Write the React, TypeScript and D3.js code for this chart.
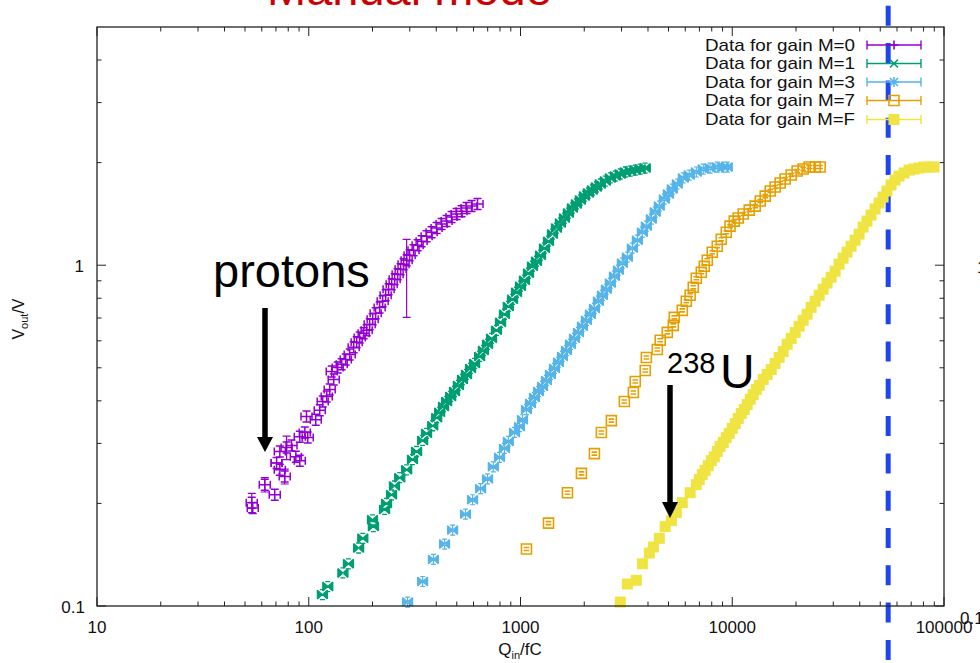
import React from 'react'
import * as d3 from 'd3'

// gain M=0 (protons region)
const m0Q = [53.8, 54.4, 62.0, 69.1, 70.5, 73.0, 73.0, 77.0, 78.6, 82.9, 86.9, 90.7, 90.7, 95.8, 98.9, 97.6, 107.9, 112.7, 116.4, 121.6, 125.6, 128.4, 131.2, 137.0, 143.1, 149.5, 156.1, 163.0, 168.4, 174.0, 181.7, 187.8, 194.0, 200.4, 207.0, 216.2, 223.4, 230.8, 238.3, 246.4, 254.5, 262.9, 271.6, 280.4, 289.9, 299.5, 312.5, 326.7, 341.2, 360.2, 380.4, 401.6, 424.0, 447.6, 472.6, 499.0, 526.8, 556.2, 587.2, 626.8]
const m0V = [0.201, 0.194, 0.227, 0.212, 0.263, 0.284, 0.251, 0.240, 0.292, 0.296, 0.274, 0.267, 0.314, 0.323, 0.312, 0.360, 0.352, 0.375, 0.398, 0.412, 0.432, 0.488, 0.462, 0.501, 0.512, 0.529, 0.547, 0.574, 0.594, 0.614, 0.631, 0.644, 0.671, 0.694, 0.723, 0.752, 0.784, 0.816, 0.850, 0.880, 0.910, 0.941, 0.973, 1.007, 1.034, 1.070, 1.107, 1.145, 1.176, 1.217, 1.250, 1.285, 1.320, 1.347, 1.384, 1.413, 1.441, 1.471, 1.491, 1.512]
// the M=0 points whose error bars stick out of the marker
const m0BarQ = [53.8, 62.0, 70.5, 77.0, 78.6, 289.9]
const m0BarV = [0.201, 0.227, 0.263, 0.240, 0.292, 0.947]
const m0BarDQ = [0, 0, 4, 0, 0, 0]
const m0BarDV = [0.013, 0.011, 0, 0.012, 0.023, 0.244]

// gain M=1
const m1Q = [116, 123, 145, 154, 172, 180, 202, 200, 228, 233, 246, 254, 269, 290, 309, 323, 345, 360, 385, 402, 415, 433, 448, 468, 488, 509, 532, 556, 581, 607, 641, 668, 699, 730, 770, 805, 840, 876, 917, 958, 1000, 1044, 1091, 1139, 1190, 1243, 1298, 1356, 1416, 1479, 1544, 1613, 1684, 1759, 1837, 1918, 2004, 2093, 2185, 2283, 2383, 2516, 2656, 2804, 2960, 3125, 3300, 3483, 3677, 3882]
const m1V = [0.108, 0.114, 0.125, 0.133, 0.148, 0.158, 0.171, 0.179, 0.192, 0.200, 0.212, 0.225, 0.238, 0.251, 0.269, 0.284, 0.306, 0.321, 0.338, 0.357, 0.370, 0.385, 0.398, 0.412, 0.426, 0.444, 0.462, 0.478, 0.498, 0.515, 0.540, 0.562, 0.586, 0.610, 0.644, 0.680, 0.718, 0.757, 0.794, 0.833, 0.868, 0.904, 0.947, 0.993, 1.027, 1.070, 1.122, 1.176, 1.234, 1.285, 1.329, 1.375, 1.422, 1.471, 1.512, 1.553, 1.595, 1.628, 1.662, 1.696, 1.731, 1.766, 1.803, 1.827, 1.852, 1.877, 1.889, 1.902, 1.915, 1.928]

// gain M=3
const m3Q = [293, 345, 388, 438, 478, 550, 594, 648, 699, 744, 796, 840, 876, 937, 989, 1022, 1067, 1115, 1164, 1216, 1270, 1326, 1385, 1447, 1511, 1578, 1648, 1721, 1798, 1878, 1961, 2048, 2138, 2234, 2333, 2436, 2545, 2656, 2776, 2899, 3028, 3196, 3375, 3564, 3763, 3929, 4148, 4327, 4524, 4778, 4990, 5212, 5503, 5872, 6268, 6765, 7297, 7857, 8496, 9070, 9470]
const m3V = [0.1027, 0.118, 0.137, 0.152, 0.167, 0.186, 0.205, 0.221, 0.236, 0.256, 0.273, 0.290, 0.304, 0.323, 0.336, 0.352, 0.377, 0.393, 0.409, 0.426, 0.441, 0.459, 0.478, 0.498, 0.519, 0.540, 0.562, 0.586, 0.610, 0.635, 0.662, 0.689, 0.718, 0.747, 0.784, 0.816, 0.850, 0.886, 0.928, 0.967, 1.014, 1.056, 1.122, 1.184, 1.250, 1.302, 1.366, 1.432, 1.491, 1.563, 1.618, 1.673, 1.731, 1.803, 1.839, 1.877, 1.915, 1.928, 1.941, 1.941, 1.941]

// gain M=7
const m7Q = [1067, 1356, 1666, 1940, 2234, 2410, 2686, 3094, 3412, 3483, 3882, 3929, 4428, 4568, 4935, 5268, 5324, 5809, 6067, 6325, 6546, 6765, 7142, 7378, 7622, 8047, 8496, 8874, 9370, 9760, 10220, 10670, 11270, 12030, 12840, 13560, 14310, 15110, 15950, 16840, 17780, 18980, 20250, 21620, 23080, 24640, 26010]
const m7V = [0.147, 0.175, 0.215, 0.245, 0.280, 0.323, 0.350, 0.398, 0.423, 0.456, 0.491, 0.536, 0.566, 0.602, 0.635, 0.666, 0.703, 0.737, 0.784, 0.816, 0.862, 0.916, 0.954, 0.993, 1.034, 1.092, 1.137, 1.192, 1.250, 1.302, 1.347, 1.375, 1.413, 1.451, 1.491, 1.543, 1.595, 1.651, 1.696, 1.743, 1.790, 1.839, 1.889, 1.915, 1.941, 1.941, 1.941]

// gain M=F (238U region)
const mFQ = [2960, 3196, 3525, 3763, 4059, 4240, 4524, 4823, 5156, 5443, 5809, 6325, 6765, 6985, 7220, 7442, 7704, 7960, 8224, 8496, 8757, 9070, 9370, 9680, 10000, 10330, 10670, 11030, 11390, 11770, 12160, 12560, 12980, 13410, 14000, 14620, 15280, 15950, 16660, 17400, 18170, 18980, 19830, 20700, 21620, 22570, 23580, 24640, 25730, 26860, 28040, 29310, 30610, 31960, 33390, 34830, 36410, 38040, 39720, 41480, 43270, 45240, 47260, 49350, 51560, 53750, 56230, 58720, 61350, 64770, 68390, 72200, 76220, 80470, 84960, 89720]
const mFV = [0.1027, 0.116, 0.119, 0.133, 0.143, 0.149, 0.158, 0.171, 0.178, 0.188, 0.201, 0.215, 0.227, 0.235, 0.243, 0.250, 0.258, 0.267, 0.274, 0.284, 0.294, 0.302, 0.312, 0.321, 0.332, 0.343, 0.355, 0.367, 0.377, 0.390, 0.404, 0.417, 0.432, 0.444, 0.462, 0.478, 0.494, 0.515, 0.536, 0.558, 0.586, 0.610, 0.635, 0.662, 0.689, 0.718, 0.752, 0.784, 0.816, 0.850, 0.886, 0.922, 0.960, 1.007, 1.049, 1.092, 1.137, 1.184, 1.234, 1.294, 1.347, 1.403, 1.461, 1.522, 1.585, 1.651, 1.719, 1.778, 1.827, 1.865, 1.902, 1.915, 1.928, 1.941, 1.941, 1.941]

const seriesNames = ['Data for gain M=0', 'Data for gain M=1', 'Data for gain M=3', 'Data for gain M=7', 'Data for gain M=F']
const seriesColors = ['#9400d3', '#009e73', '#56b4e9', '#e69f00', '#f0e442']
const xTickLabels = [10, 100, 1000, 10000, 100000]
const yTickLabels = [0.1, 1]
const cutQ = 54500 // blue dashed marker

const font = 'Liberation Sans, Arial, Helvetica, sans-serif'

// point glyphs: marker + the error-bar caps, as gnuplot draws them
const bowtie = 'M-5,-4.5L0,0L-5,4.5ZM5,-4.5L0,0L5,4.5Z'
const glyphs = [
  { stroke: 'M-5.5,0H5.5M0,-5.5V5.5M-5.5,-4V4M5.5,-4V4M-4,-5.5H4M-4,5.5H4', fill: '' },
  { stroke: 'M-5,-4.5L5,4.5M-5,4.5L5,-4.5M-5,-4.5V4.5M5,-4.5V4.5M-2.5,-5H2.5M-2.5,5H2.5', fill: bowtie },
  { stroke: 'M-5,-4.5L5,4.5M-5,4.5L5,-4.5M-5,-4.5V4.5M5,-4.5V4.5M0,-5V5M-2.5,-5H2.5M-2.5,5H2.5', fill: bowtie },
  { stroke: 'M-5,-5H5V5H-5ZM-2.8,-1.5H2.8M-2.8,1.5H2.8', fill: '' },
]
const glyphStroke = [1.5, 1.3, 1.2, 1.6]
const legendGlyphs = [
  'M-4.5,0H4.5M0,-4.5V4.5',
  'M-4,-4L4,4M-4,4L4,-4',
  'M-4,-4L4,4M-4,4L4,-4M-5,0H5M0,-5V5',
  'M-5,-5H5V5H-5Z',
]

export default function App() {
  const x = d3.scaleLog().domain([10, 100000]).range([97, 944])
  const y = d3.scaleLog().domain([0.1, 5]).range([606, 27])
  const left = 97, right = 944, top = 27, bottom = 606

  const xMinor = x.ticks().filter(t => !xTickLabels.includes(t))
  const yMinor = y.ticks().filter(t => !yTickLabels.includes(t) && t < 5)

  const series = [
    { q: m0Q, v: m0V },
    { q: m1Q, v: m1V },
    { q: m3Q, v: m3V },
    { q: m7Q, v: m7V },
    { q: mFQ, v: mFV },
  ]

  const legendY = [45, 63.5, 82, 100.5, 119.5]

  return (
    <svg width={980} height={663} style={{ position: 'absolute', left: 0, top: 0, display: 'block', background: '#fff' }}
      fontFamily={font}>
      <rect x={0} y={0} width={980} height={663} fill="#fff" />

      {/* cut-off slide title */}
      <text x={267} y={4.5} fontSize={47} fill="#cc0000">Manual mode</text>

      {/* blue dashed vertical marker */}
      <line x1={x(cutQ)} x2={x(cutQ)} y1={0} y2={663} stroke="#1f45f0" strokeWidth={5}
        strokeDasharray="20 17.3" strokeDashoffset={31.5} />

      {/* ticks */}
      <g stroke="#222" strokeWidth={1}>
        {xTickLabels.map(t => (
          <g key={'xM' + t}>
            <line x1={x(t)} x2={x(t)} y1={bottom} y2={bottom - 9} />
            <line x1={x(t)} x2={x(t)} y1={top} y2={top + 9} />
          </g>
        ))}
        {xMinor.map(t => (
          <g key={'xm' + t}>
            <line x1={x(t)} x2={x(t)} y1={bottom} y2={bottom - 4.5} />
            <line x1={x(t)} x2={x(t)} y1={top} y2={top + 4.5} />
          </g>
        ))}
        {yTickLabels.map(t => (
          <g key={'yM' + t}>
            <line x1={left} x2={left + 9} y1={y(t)} y2={y(t)} />
            <line x1={right} x2={right - 9} y1={y(t)} y2={y(t)} />
          </g>
        ))}
        {yMinor.map(t => (
          <g key={'ym' + t}>
            <line x1={left} x2={left + 4.5} y1={y(t)} y2={y(t)} />
            <line x1={right} x2={right - 4.5} y1={y(t)} y2={y(t)} />
          </g>
        ))}
      </g>

      {/* data */}
      {series.slice(0, 4).map((s, si) => (
        <g key={'s' + si} stroke={seriesColors[si]} strokeWidth={glyphStroke[si]}>
          {s.q.map((q, i) => (
            <g key={i} transform={`translate(${x(q)},${y(s.v[i])})`}>
              {glyphs[si].fill && <path d={glyphs[si].fill} fill={seriesColors[si]} stroke="none" />}
              <path d={glyphs[si].stroke} fill="none" />
            </g>
          ))}
          {si === 0 && m0BarQ.map((q, i) => {
            const cx = x(q), cy = y(m0BarV[i])
            const els = []
            if (m0BarDV[i] > 0) {
              const y1 = y(m0BarV[i] + m0BarDV[i]), y2 = y(m0BarV[i] - m0BarDV[i])
              els.push(<path key="v" fill="none" strokeWidth={1.2} d={`M${cx},${y1}V${y2}M${cx - 4},${y1}H${cx + 4}M${cx - 4},${y2}H${cx + 4}`} />)
            }
            if (m0BarDQ[i] > 0) {
              const x1 = x(q - m0BarDQ[i]), x2 = x(q + m0BarDQ[i])
              els.push(<path key="h" fill="none" strokeWidth={1.2} d={`M${x1},${cy}H${x2}M${x1},${cy - 4}V${cy + 4}M${x2},${cy - 4}V${cy + 4}`} />)
            }
            return <g key={'b' + i}>{els}</g>
          })}
        </g>
      ))}
      <g fill={seriesColors[4]}>
        {mFQ.map((q, i) => (
          <rect key={i} x={x(q) - 5.5} y={y(mFV[i]) - 5.5} width={11} height={11} />
        ))}
      </g>

      {/* frame */}
      <rect x={left} y={top} width={right - left} height={bottom - top} fill="none" stroke="#222" strokeWidth={1.3} />

      {/* tick labels */}
      <g fontSize={17} fill="#111" textAnchor="middle">
        {xTickLabels.map(t => (
          <text key={'xl' + t} x={x(t)} y={633}>{t}</text>
        ))}
      </g>
      <g fontSize={17} fill="#111" textAnchor="end">
        <text x={85} y={613}>0.1</text>
        <text x={84} y={272}>1</text>
      </g>
      {/* bits of the neighbouring panel peeking in */}
      <text x={960} y={624} fontSize={17} fill="#111">0.1</text>
      <text x={977} y={273} fontSize={17} fill="#111">1</text>

      {/* axis titles */}
      <text transform="translate(24,319) rotate(-90)" textAnchor="middle" fontSize={16} fill="#111">
        V<tspan fontSize={11} dy={4}>out</tspan><tspan dy={-4}>/V</tspan>
      </text>
      <text x={520} y={655} textAnchor="middle" fontSize={17} fill="#111">
        Q<tspan fontSize={11} dy={4}>in</tspan><tspan dy={-4}>/fC</tspan>
      </text>

      {/* legend */}
      {seriesNames.map((name, i) => {
        const ly = legendY[i]
        const c = seriesColors[i]
        return (
          <g key={'lg' + i}>
            <text x={855} y={ly + 5.5} fontSize={17} textAnchor="end" fill="#111"
              textLength={150} lengthAdjust="spacingAndGlyphs">{name}</text>
            <path d={`M867,${ly}H921M867,${ly - 4.5}V${ly + 4.5}M921,${ly - 4.5}V${ly + 4.5}`}
              stroke={c} strokeWidth={1.4} fill="none" />
            {i < 4
              ? <path d={legendGlyphs[i]} transform={`translate(894,${ly})`} stroke={c} strokeWidth={1.6} fill="none" />
              : <rect x={888.5} y={ly - 5.5} width={11} height={11} fill={c} />}
          </g>
        )
      })}

      {/* annotations */}
      <text x={213} y={287} fontSize={47} fill="#000">protons</text>
      <path d="M265,308V440" stroke="#000" strokeWidth={5.5} />
      <path d="M257,437L273,437L265,452Z" fill="#000" />

      <text x={667} y={373} fontSize={29} fill="#000">238</text>
      <text x={720} y={388} fontSize={48} fill="#000">U</text>
      <path d="M670,385V505" stroke="#000" strokeWidth={5.5} />
      <path d="M662,502L678,502L670,518Z" fill="#000" />
    </svg>
  )
}
